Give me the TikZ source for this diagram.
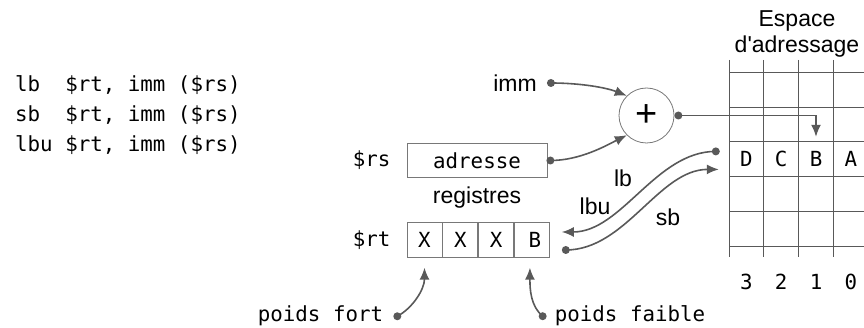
\documentclass[tikz,border=0pt]{standalone}
\usepackage{fontspec}
\setmainfont{Liberation Sans}
\setmonofont{DejaVu Sans Mono}
\usetikzlibrary{arrows.meta,positioning}
\definecolor{wire}{RGB}{89,89,89}
\definecolor{frame}{RGB}{120,120,120}

\begin{document}
\begin{tikzpicture}[x=1pt, y=-1pt,
    code/.style={font=\ttfamily\fontsize{20.8}{25}\selectfont, inner sep=0pt},
    txt/.style={font=\fontsize{23}{27}\selectfont, inner sep=0pt},
    cell/.style={draw=frame, line width=0.8pt, minimum width=35pt, minimum height=34.5pt,
      inner sep=0pt, font=\ttfamily\fontsize{20.8}{25}\selectfont},
    slot/.style={minimum size=34.8pt, inner sep=0pt, font=\ttfamily\fontsize{20.8}{25}\selectfont},
    gridline/.style={draw=wire, line width=1pt},
    arr/.style={-{Latex[length=12pt,width=10pt]}, line width=1.6pt, draw=wire},
    dot/.style={fill=wire}
  ]
  \useasboundingbox (0,0) rectangle (864,328);

  % instructions
  \node[code, anchor=base west] (ilb) at (15,92) {lb\ \ \$rt, imm (\$rs)};
  \node[code, anchor=base west] (isb) at (15,122) {sb\ \ \$rt, imm (\$rs)};
  \node[code, anchor=base west] (ilbu) at (15,152) {lbu \$rt, imm (\$rs)};

  % registres
  \node[cell, minimum width=140pt] (rs) at (477,160.5) {adresse};
  \node[code, left=16pt of rs] (rslbl) {\$rs};
  \node[txt] (reg) at (477,198) {registres};
  \node[cell] (r3) at (424.5,240) {X};
  \node[cell, right=0pt of r3] (r2) {X};
  \node[cell, right=0pt of r2] (r1) {X};
  \node[cell, right=0pt of r1] (r0) {\hspace{6pt}B};
  \node[code, left=16pt of r3] (rtlbl) {\$rt};

  % additionneur
  \node[circle, draw=frame, line width=0.8pt, minimum size=55pt, inner sep=0pt,
    font=\fontsize{38}{38}\selectfont] (plus) at (646.5,115.5) {+};
  \node[txt] (imm) at (515,83) {imm};

  % espace d'adressage
  \node[txt, anchor=base] (esp1) at (797,27) {Espace};
  \node[txt, anchor=base] (esp2) at (797,53) {d\textquotesingle adressage};
  \foreach \i in {0,...,3}
    \draw[gridline] (729+34.8*\i,60) -- (729+34.8*\i,257);
  \foreach \j in {0,...,5}
    \draw[gridline] (729,72.5+34.75*\j) -- (864,72.5+34.75*\j);
  \node[slot] (m3) at (746.4,159.4) {D};
  \node[slot] (m2) at (781.2,159.4) {C};
  \node[slot] (m1) at (816,159.4) {B};
  \node[slot] (m0) at (850.8,159.4) {A};
  \node[code] (n3) at (746.4,282) {3};
  \node[code] (n2) at (781.2,282) {2};
  \node[code] (n1) at (816,282) {1};
  \node[code] (n0) at (850.8,282) {0};

  % calcul de l'adresse
  \coordinate[right=14pt of imm] (immdot);
  \coordinate[right=3pt of rs] (rsdot);
  \coordinate[right=4pt of plus] (sumdot);
  \fill[dot] (immdot) circle (4pt);
  \fill[dot] (rsdot) circle (4pt);
  \fill[dot] (sumdot) circle (4pt);
  \draw[arr] (immdot) .. controls +(30,0) and +(-20,-8) .. (plus.135);
  \draw[arr] (rsdot) .. controls +(30,0) and +(-20,10) .. (plus.225);
  \draw[arr, shorten >=5pt] (sumdot) -| (m1.north);

  % transferts
  \coordinate (lbdot) at ([xshift=-13pt,yshift=8pt]m3.west);
  \coordinate (lbtip) at ([xshift=12pt,yshift=8pt]r0.east);
  \coordinate (sbdot) at ([xshift=16pt,yshift=-10pt]r0.east);
  \coordinate (sbtip) at ([xshift=-10pt,yshift=-10pt]m3.west);
  \fill[dot] (lbdot) circle (4pt);
  \fill[dot] (sbdot) circle (4pt);
  \draw[arr] (lbdot) .. controls +(-60,0) and +(60,0) .. (lbtip);
  \draw[arr] (sbdot) .. controls +(60,0) and +(-60,0) .. (sbtip);
  \node[txt] (lb) at (623,178) {lb};
  \node[txt] (lbu) at (595,206) {lbu};
  \node[txt] (sb) at (668,217) {sb};

  % poids
  \node[code, anchor=base] (fort) at (320.5,322) {poids fort};
  \node[code, anchor=base] (faible) at (630,322) {poids faible};
  \coordinate[right=14pt of fort] (fortdot);
  \coordinate[left=12pt of faible] (faibledot);
  \fill[dot] (fortdot) circle (4pt);
  \fill[dot] (faibledot) circle (4pt);
  \draw[arr] (fortdot) .. controls +(15,-8) and +(0,22) .. ([yshift=-10pt]r3.south);
  \draw[arr] (faibledot) .. controls +(-12,-10) and +(0,22) .. ([xshift=-2pt,yshift=-10pt]r0.south);
\end{tikzpicture}
\end{document}
